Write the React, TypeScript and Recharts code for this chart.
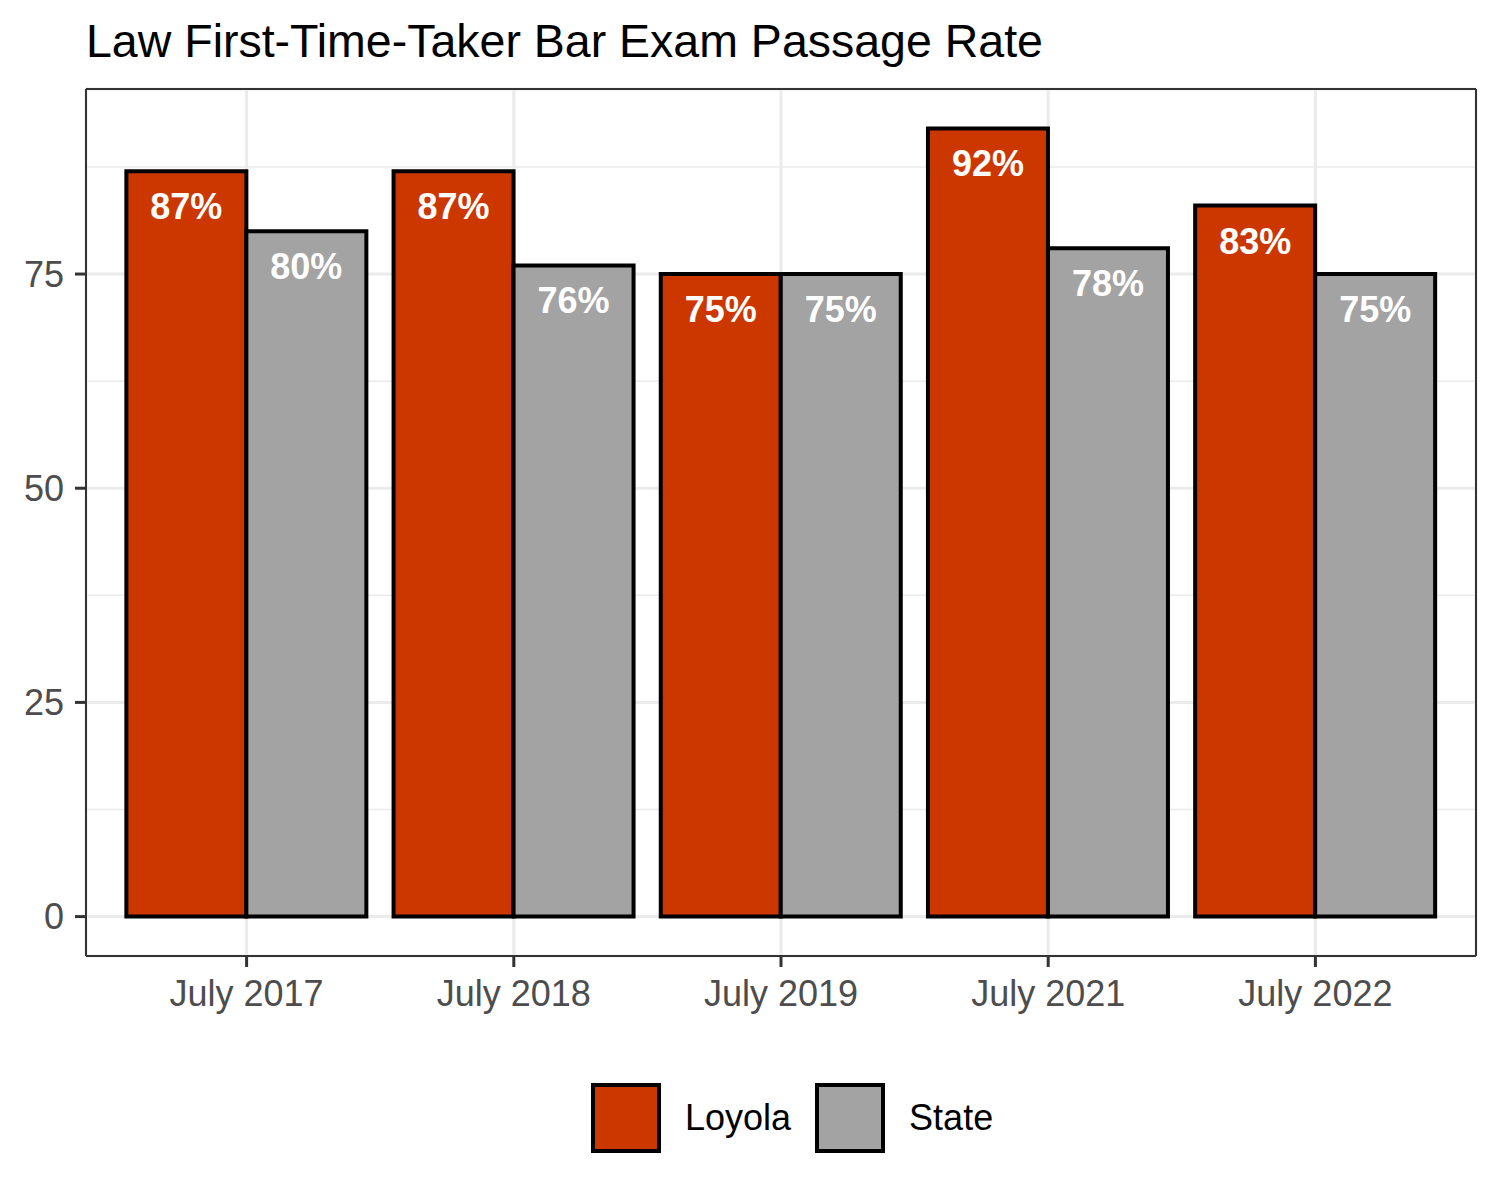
import React from 'react';
import {
  BarChart, Bar, XAxis, YAxis, CartesianGrid, Legend,
} from 'recharts';

const PERIODS = ['July 2017', 'July 2018', 'July 2019', 'July 2021', 'July 2022'];
const LOYOLA = [87, 87, 75, 92, 83];
const STATE = [80, 76, 75, 78, 75];
const Y_TICKS = [0, 25, 50, 75];
const Y_MINOR = [12.5, 37.5, 62.5, 87.5];
const Y_DOMAIN = [-4.6, 96.6];

const SERIES = [
  { key: 'loyola', name: 'Loyola', color: '#CC3700' },
  { key: 'state', name: 'State', color: '#A3A3A3' },
];

const FONT = '"Liberation Sans", Arial, Helvetica, sans-serif';
const PANEL_BORDER = { stroke: '#333333', strokeWidth: 2 };

const chartData = PERIODS.map((period, i) => ({
  period,
  loyola: LOYOLA[i],
  state: STATE[i],
}));

// white bold value label sitting just inside the top of each bar
function renderBarLabel(props: any) {
  const { x, y, width, value } = props;
  return (
    <text
      x={Number(x) + Number(width) / 2}
      y={Number(y) + 48}
      textAnchor="middle"
      fill="#FFFFFF"
      fontSize={36}
      fontWeight="bold"
      fontFamily={FONT}
    >
      {`${value}%`}
    </text>
  );
}

function LegendContent() {
  return (
    <div style={{ display: 'flex', alignItems: 'center', fontFamily: FONT }}>
      {SERIES.map((s) => (
        <div key={s.key} style={{ display: 'flex', alignItems: 'center', marginRight: 24 }}>
          <div
            style={{
              width: 70, height: 70, boxSizing: 'border-box',
              background: s.color, border: '4px solid #000',
            }}
          />
          <span style={{ fontSize: 36, color: '#000', marginLeft: 24, lineHeight: '70px' }}>
            {s.name}
          </span>
        </div>
      ))}
    </div>
  );
}

export default function App() {
  return (
    <div style={{ position: 'absolute', left: 0, top: 0, width: 1500, height: 1200, background: '#fff' }}>
      <div
        style={{
          position: 'absolute', left: 86, top: 18, fontFamily: FONT,
          fontSize: 46.5, lineHeight: '46.5px', color: '#000', whiteSpace: 'nowrap',
        }}
      >
        Law First-Time-Taker Bar Exam Passage Rate
      </div>
      <BarChart
        width={1500}
        height={1200}
        data={chartData}
        margin={{ top: 88, right: 23, bottom: 164, left: 0 }}
        barCategoryGap="5%"
        barGap={0}
        style={{ fontFamily: FONT }}
      >
        <CartesianGrid
          horizontalValues={Y_MINOR}
          vertical={false}
          stroke="#EBEBEB"
          strokeWidth={1.5}
        />
        <CartesianGrid stroke="#EBEBEB" strokeWidth={3} />
        <XAxis
          dataKey="period"
          type="category"
          padding={{ left: 27, right: 27 }}
          height={80}
          axisLine={PANEL_BORDER}
          tickSize={11}
          tickMargin={13}
          tickLine={{ stroke: '#333333', strokeWidth: 3 }}
          tick={{ fontSize: 36, fill: '#4D4D4D', fontFamily: FONT }}
          interval={0}
        />
        {/* top and right edges of the panel box */}
        <XAxis
          xAxisId="top"
          dataKey="period"
          type="category"
          orientation="top"
          height={1}
          axisLine={PANEL_BORDER}
          tick={false}
          tickLine={false}
        />
        <YAxis
          type="number"
          domain={Y_DOMAIN}
          ticks={Y_TICKS}
          allowDataOverflow
          width={86}
          axisLine={PANEL_BORDER}
          tickSize={11}
          tickMargin={11}
          tickLine={{ stroke: '#333333', strokeWidth: 3 }}
          tick={{ fontSize: 36, fill: '#4D4D4D', fontFamily: FONT }}
        />
        <YAxis
          yAxisId="right"
          orientation="right"
          type="number"
          domain={Y_DOMAIN}
          allowDataOverflow
          width={1}
          axisLine={PANEL_BORDER}
          tick={false}
          tickLine={false}
        />
        {SERIES.map((s) => (
          <Bar
            key={s.key}
            dataKey={s.key}
            name={s.name}
            fill={s.color}
            stroke="#000000"
            strokeWidth={4}
            label={renderBarLabel}
            isAnimationActive={false}
          />
        ))}
        <Legend
          layout="horizontal"
          verticalAlign="middle"
          align="center"
          wrapperStyle={{ top: 1083, left: 591, width: 'auto' }}
          content={() => <LegendContent />}
        />
      </BarChart>
    </div>
  );
}
